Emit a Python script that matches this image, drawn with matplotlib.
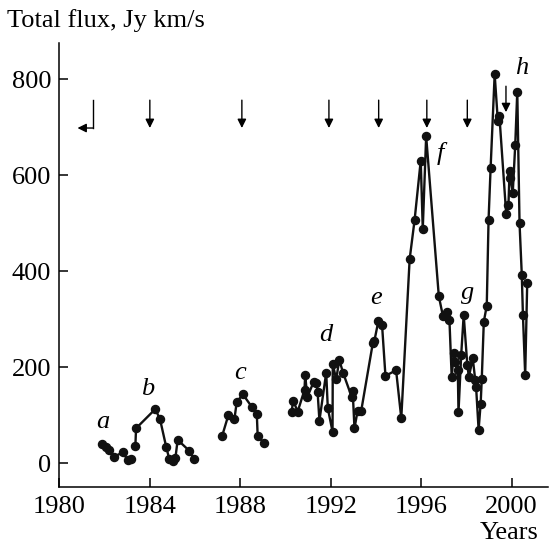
import matplotlib
matplotlib.use("Agg")
import matplotlib.pyplot as plt

plt.rcParams['font.family'] = ['Liberation Serif', 'DejaVu Serif']
plt.rcParams['mathtext.fontset'] = 'stix'

# separate observing episodes (year, total flux in Jy km/s)
a_year = [1981.89, 1982.06, 1982.21, 1982.43, 1982.80, 1983.02, 1983.17]
a_flux = [40, 34, 28, 14, 23, 7, 9]

b_year = [1983.36, 1983.39, 1984.24, 1984.45, 1984.72, 1984.86, 1985.01,
          1985.13, 1985.23, 1985.75, 1985.97]
b_flux = [36, 73, 113, 92, 35, 9, 6, 11, 49, 26, 9]

c_year = [1987.19, 1987.47, 1987.74, 1987.84, 1988.11, 1988.52, 1988.73,
          1988.77, 1989.07]
c_flux = [56, 100, 92, 127, 144, 117, 103, 56, 42]

# continuous monitoring from 1990 on (flares d - h)
main_year = [1990.27, 1990.34, 1990.54, 1990.84, 1990.87, 1990.96, 1991.25,
             1991.37, 1991.42, 1991.50, 1991.80, 1991.87, 1992.08, 1992.09,
             1992.24, 1992.38, 1992.55, 1992.93, 1992.97, 1993.05, 1993.19,
             1993.35,
             1993.86, 1993.93, 1994.11, 1994.27, 1994.42, 1994.89, 1995.12,
             1995.49, 1995.71, 1995.98, 1996.07, 1996.22,
             1996.78, 1996.96, 1997.15, 1997.25, 1997.35, 1997.44, 1997.50,
             1997.62, 1997.65, 1997.77, 1997.88, 1998.04, 1998.11, 1998.28,
             1998.39, 1998.43, 1998.54, 1998.63, 1998.68, 1998.77, 1998.90,
             1998.98, 1999.07, 1999.25, 1999.39, 1999.46, 1999.76, 1999.86,
             1999.91, 1999.95, 2000.05, 2000.16, 2000.25, 2000.35, 2000.45,
             2000.50, 2000.60, 2000.69]
main_flux = [108, 130, 108, 153, 185, 138, 170, 167, 148, 89, 189, 115, 66,
             207, 175, 215, 188, 138, 151, 73, 110, 110,
             250, 255, 297, 288, 182, 194, 94,
             425, 507, 630, 488, 681,
             348, 307, 315, 298, 179, 229, 212, 194, 106, 226, 309, 205, 180,
             219, 174, 158, 70, 124, 176, 295, 328,
             507, 614, 810, 713, 723, 519, 538, 609, 593, 563, 663, 774, 500,
             392, 309, 184, 376]

flare_names = ['a', 'b', 'c', 'd', 'e', 'f', 'g', 'h']
flare_year = [1981.9, 1983.9, 1988.0, 1991.8, 1994.0, 1996.85, 1998.06, 2000.45]
flare_flux = [87, 154, 188, 267, 344, 645, 354, 822]

arrow_year = [1984.0, 1988.07, 1991.92, 1994.12, 1996.25, 1998.04]
arrow_top, arrow_bottom = 756, 698
last_arrow_year = 1999.75
last_arrow_top, last_arrow_bottom = 785, 731

fig = plt.figure(figsize=(5.5, 5.44), dpi=100)
ax = fig.add_axes([0.108, 0.104, 0.888, 0.817])

style = dict(color='#111111', marker='o', markersize=5.8, linewidth=1.7)
for xs, ys in [(a_year, a_flux), (b_year, b_flux), (c_year, c_flux),
               (main_year, main_flux)]:
    ax.plot(xs, ys, **style)

for name, x, y in zip(flare_names, flare_year, flare_flux):
    ax.text(x, y, name, fontsize=19, style='italic', ha='center', va='center')

aprops = dict(arrowstyle='-|>', color='black', lw=1.0,
              mutation_scale=13, shrinkA=0, shrinkB=0)
for x in arrow_year:
    ax.annotate('', xy=(x, arrow_bottom), xytext=(x, arrow_top),
                arrowprops=aprops)
ax.annotate('', xy=(last_arrow_year, last_arrow_bottom),
            xytext=(last_arrow_year, last_arrow_top), arrowprops=aprops)

# bent arrow at the left
ax.plot([1981.5, 1981.5], [arrow_top, 698], color='black', lw=1.0)
ax.annotate('', xy=(1980.8, 698), xytext=(1981.5, 698), arrowprops=aprops)

ax.set_xlim(1980, 2001.6)
ax.set_ylim(-50, 875)
ax.set_xticks([1980, 1984, 1988, 1992, 1996, 2000])
ax.set_yticks([0, 200, 400, 600, 800])
ax.spines['top'].set_visible(False)
ax.spines['right'].set_visible(False)
for s in ['left', 'bottom']:
    ax.spines[s].set_linewidth(1.1)
ax.tick_params(direction='in', length=6.5, width=1.1, labelsize=19, pad=6)

fig.text(0.012, 0.95, 'Total flux, Jy km/s', fontsize=19, ha='left', va='baseline')
fig.text(0.98, 0.01, 'Years', fontsize=19, ha='right', va='baseline')

fig.savefig('out.png', dpi=100)
